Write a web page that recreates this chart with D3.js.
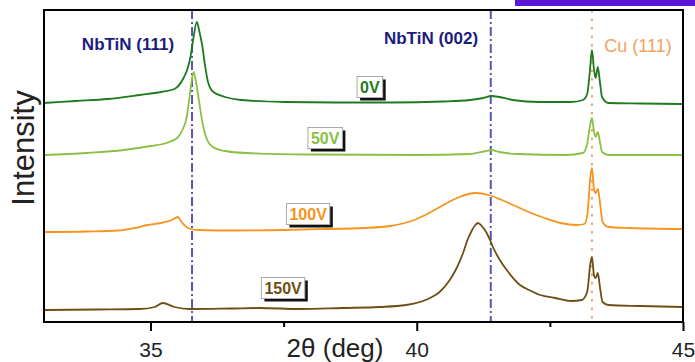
<!DOCTYPE html>
<html lang="en">
    <head>
        <meta charset="utf-8">
        <title>XRD patterns</title>
        <script type="text/javascript" src="https://cdn.jsdelivr.net/npm/d3@7"></script>
        <style type="text/css">
            body { margin: 0; background: #fff; }
            svg { display: block; font-family: Arial, "Liberation Sans", sans-serif; }
            .axis path, .axis line { stroke: #000; stroke-width: 2px; }
            .axis text { font-size: 21px; fill: #222; }
        </style>
    </head>
    <body>
        <script type="text/javascript">
            //Data: [2theta (deg), intensity (a.u., stacked with offset)]
            var pattern0V = [[33.0,219],[33.6,221],[34.2,223],[34.8,227],[35.2,230],[35.45,233],[35.62,244],[35.7,254],[35.75,265],[35.8,282],[35.87,300],[35.92,290],[35.97,277],[36.02,258],[36.08,240],[36.18,230],[36.4,225],[36.7,222],[37.5,220],[38.5,219.5],[39.5,219.5],[40.5,220.5],[41.0,222],[41.25,224],[41.4,226],[41.55,225],[41.8,222],[42.3,220],[42.9,220],[43.12,222],[43.2,228],[43.25,250],[43.29,272],[43.33,252],[43.36,244],[43.40,255],[43.44,240],[43.48,225],[43.6,219],[44.2,218.5],[45.0,218]];
            var pattern50V = [[33.0,167],[33.8,169],[34.5,172],[35.0,176],[35.3,179],[35.5,184],[35.6,192],[35.68,205],[35.73,224],[35.77,240],[35.81,250],[35.86,238],[35.92,218],[35.98,198],[36.05,184],[36.17,175],[36.4,171],[36.8,169],[38.0,167.5],[40.0,167],[41.0,168],[41.3,171],[41.4,172],[41.55,170],[41.9,168],[42.8,167],[43.12,169],[43.2,178],[43.25,195],[43.29,204],[43.33,190],[43.36,185],[43.40,190],[43.44,180],[43.48,170],[43.6,167],[45.0,167]];
            var pattern100V = [[33.0,90],[33.8,90.5],[34.4,91.5],[34.7,94],[34.95,97],[35.2,99],[35.4,102],[35.51,105],[35.6,99],[35.7,94],[35.9,92],[36.6,91.5],[37.5,92],[38.3,93],[39.0,94],[39.5,96],[39.9,101],[40.2,108],[40.5,117],[40.8,125],[41.1,129],[41.35,127],[41.6,122],[41.85,116],[42.1,110],[42.4,104],[42.7,99],[43.0,97],[43.15,98],[43.21,110],[43.26,145],[43.29,154],[43.33,132],[43.36,129],[43.40,133],[43.44,120],[43.49,100],[43.6,95],[44.0,94],[45.0,93]];
            var pattern150V = [[33.0,12],[34.0,12.5],[34.79,13],[35.08,15],[35.23,19],[35.45,15],[35.73,13],[36.5,13.5],[37.05,14],[37.8,13],[38.6,14],[39.3,15],[39.8,17],[40.06,20],[40.25,24],[40.43,30],[40.62,42],[40.75,54],[40.87,69],[40.96,83],[41.03,91],[41.1,97],[41.15,99],[41.22,96],[41.28,92],[41.36,84],[41.43,75],[41.56,62],[41.69,52],[41.94,37],[42.15,31],[42.32,27],[42.6,24],[42.9,21],[43.1,22],[43.2,30],[43.26,58],[43.29,65],[43.33,46],[43.36,44],[43.40,49],[43.44,35],[43.49,20],[43.6,17],[44.2,16],[45.0,15]];

            var seriesNames = ["0V", "50V", "100V", "150V"];
            var seriesData = [pattern0V, pattern50V, pattern100V, pattern150V];
            var seriesColors = ["#1d7a1d", "#8cc045", "#f7941d", "#6e4e14"];
            //where each bias label sits, in data units
            var labelTheta = [39.12, 38.28, 37.96, 37.49];
            var labelLevel = [235, 184, 108, 34];

            //Reference peak positions
            var peakNames = ["NbTiN (111)", "NbTiN (002)", "Cu (111)"];
            var peakTheta = [35.78, 41.39, 43.29];

            var xTicks = [35, 40, 45];
            var xMinorTicks = [37.5, 42.5];

            //Create svg space
            var w = 695;
            var h = 362;
            //(plotTop, not "top": window.top is read-only)
            var plotLeft = 44, plotRight = 683, plotTop = 10, plotBottom = 322;

            var svg = d3.select("body")
                        .append("svg")
                        .attr("width", w)
                        .attr("height", h);

            //stray purple bar in the top right corner of the picture
            svg.append("rect")
                .attr("x", 515).attr("y", 0)
                .attr("width", 180).attr("height", 6)
                .attr("fill", "#5b16d6");

            //Create scale functions
            var xScale = d3.scaleLinear()
                            .domain([33, 45])
                            .range([plotLeft, plotRight]);

            var yScale = d3.scaleLinear()
                            .domain([0, 312])
                            .range([plotBottom, plotTop]);

            //Reference lines (dash-dot for NbTiN, dotted for Cu)
            svg.selectAll("line.ref")
                .data(peakTheta)
                .enter()
                .append("line")
                .attr("class", "ref")
                .attr("x1", function(d) { return xScale(d); })
                .attr("x2", function(d) { return xScale(d); })
                .attr("y1", plotTop)
                .attr("y2", plotBottom)
                .attr("stroke", function(d, i) { return i < 2 ? "#5656b4" : "#f2a56a"; })
                .attr("stroke-width", 2)
                .attr("stroke-dasharray", function(d, i) { return i < 2 ? "9,3,2,3" : "2.5,6"; });

            //Draw the patterns
            var line = d3.line()
                        .x(function(d) { return xScale(d[0]); })
                        .y(function(d) { return yScale(d[1]); })
                        .curve(d3.curveMonotoneX);

            svg.selectAll("path.pattern")
                .data(seriesData)
                .enter()
                .append("path")
                .attr("class", "pattern")
                .attr("d", line)
                .attr("fill", "none")
                .attr("stroke", function(d, i) { return seriesColors[i]; })
                .attr("stroke-width", 1.8);

            //Peak labels
            var peakLabelX = [128, 431, 638];
            var peakLabelY = [50, 44, 52];
            svg.selectAll("text.peak")
                .data(peakNames)
                .enter()
                .append("text")
                .attr("class", "peak")
                .attr("x", function(d, i) { return peakLabelX[i]; })
                .attr("y", function(d, i) { return peakLabelY[i]; })
                .attr("text-anchor", "middle")
                .attr("font-size", function(d, i) { return i < 2 ? "17px" : "18px"; })
                .attr("font-weight", function(d, i) { return i < 2 ? "bold" : "normal"; })
                .attr("fill", function(d, i) { return i < 2 ? "#1c1c7e" : "#f2a263"; })
                .text(function(d) { return d; });

            //Bias labels: white box with a black drop shadow
            var tags = svg.selectAll("g.tag")
                .data(seriesNames)
                .enter()
                .append("g")
                .attr("class", "tag")
                .attr("transform", function(d, i) {
                    return "translate(" + xScale(labelTheta[i]) + "," + yScale(labelLevel[i]) + ")";
                });

            tags.append("rect").attr("class", "shadow");
            tags.append("rect").attr("class", "box");
            tags.append("text")
                .attr("text-anchor", "middle")
                .attr("y", 6)
                .attr("font-size", "16px")
                .attr("font-weight", "bold")
                .attr("fill", function(d, i) { return seriesColors[i]; })
                .text(function(d) { return d; });

            tags.each(function() {
                var g = d3.select(this);
                var tw = g.select("text").node().getComputedTextLength();
                var bw = tw + 6, bh = 21;
                g.select("rect.shadow")
                    .attr("x", -bw / 2 + 3).attr("y", -bh / 2 + 3)
                    .attr("width", bw).attr("height", bh)
                    .attr("fill", "#111");
                g.select("rect.box")
                    .attr("x", -bw / 2).attr("y", -bh / 2)
                    .attr("width", bw).attr("height", bh)
                    .attr("fill", "#fff")
                    .attr("stroke", "#aaa")
                    .attr("stroke-width", 1);
            });

            //Frame round the plot
            svg.append("rect")
                .attr("x", plotLeft).attr("y", plotTop)
                .attr("width", plotRight - plotLeft).attr("height", plotBottom - plotTop)
                .attr("fill", "none")
                .attr("stroke", "#000")
                .attr("stroke-width", 2);

            //Draw x axis with major and minor ticks
            var xAxis = d3.axisBottom()
                            .scale(xScale)
                            .tickValues(xTicks)
                            .tickSize(9)
                            .tickPadding(11)
                            .tickFormat(d3.format("d"));

            svg.append("g")
                .attr("class", "axis")
                .attr("transform", "translate(0," + plotBottom + ")")
                .call(xAxis)
                .call(function(g) { g.select(".domain").remove(); });

            svg.append("g")
                .attr("class", "axis")
                .attr("transform", "translate(0," + plotBottom + ")")
                .call(d3.axisBottom(xScale).tickValues(xMinorTicks).tickSize(5).tickFormat(""))
                .call(function(g) { g.select(".domain").remove(); });

            //Axis titles
            svg.append("text")
                .attr("x", 335)
                .attr("y", 357)
                .attr("text-anchor", "middle")
                .attr("font-size", "26px")
                .attr("fill", "#222")
                .text("2\u03b8 (deg)");

            svg.append("text")
                .attr("transform", "translate(34,148) rotate(-90)")
                .attr("text-anchor", "middle")
                .attr("font-size", "31px")
                .attr("fill", "#222")
                .text("Intensity");
        </script>
    </body>
</html>
